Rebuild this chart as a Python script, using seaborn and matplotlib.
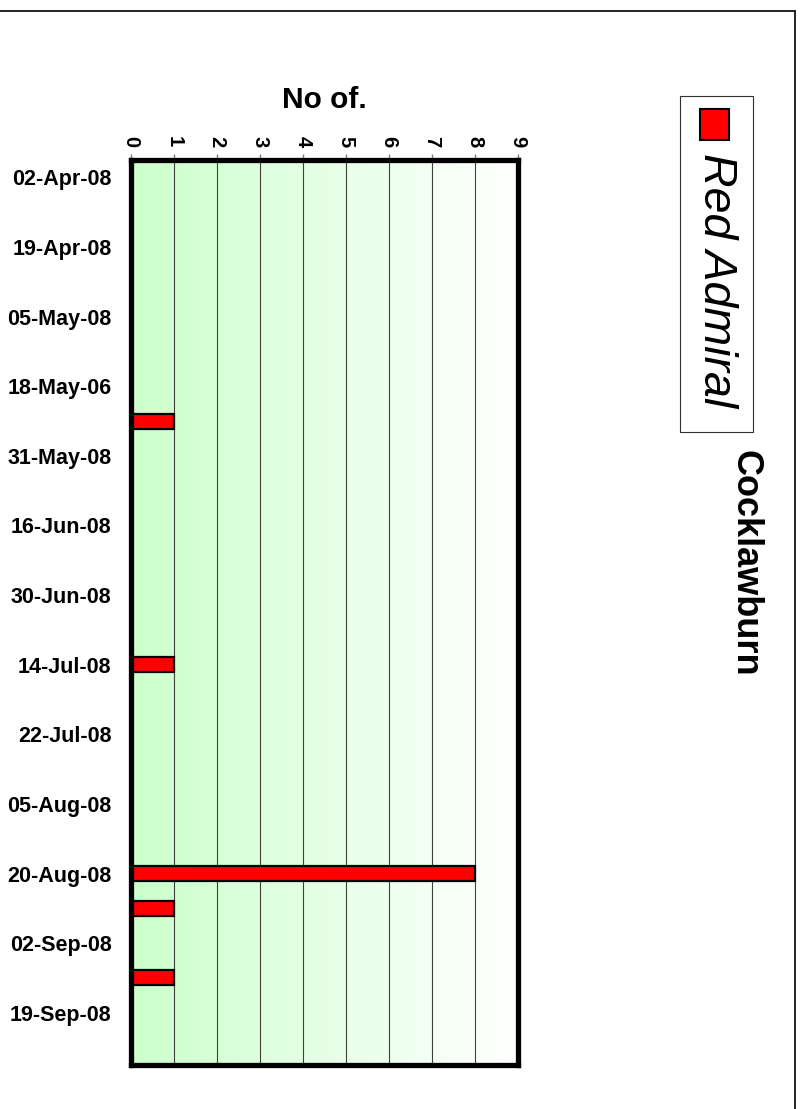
import numpy as np
import pandas as pd
import matplotlib
matplotlib.use("Agg")
import matplotlib.pyplot as plt
from matplotlib.patches import Rectangle
from matplotlib.lines import Line2D
import seaborn as sns

# Survey visits (one slot per visit); every other visit carries a date label
date_labels = ["02-Apr-08", "19-Apr-08", "05-May-08", "18-May-06", "31-May-08",
               "16-Jun-08", "30-Jun-08", "14-Jul-08", "22-Jul-08", "05-Aug-08",
               "20-Aug-08", "02-Sep-08", "19-Sep-08"]
counts = [0, 0, 0, 0, 0, 0, 0, 1, 0, 0, 0, 0, 0,
          0, 1, 0, 0, 0, 0, 0, 8, 1, 0, 1, 0, 0]
x_ticks = [0, 1, 2, 3, 4, 5, 6, 7, 8, 9]
series_name = "Red Admiral"
site_name = "Cocklawburn"
axis_title = "No of."

sns.set_style("white")
plt.rcParams["font.family"] = ["Liberation Sans", "DejaVu Sans"]
plt.rcParams["text.color"] = "black"
plt.rcParams["xtick.labelcolor"] = "black"
plt.rcParams["ytick.labelcolor"] = "black"

W, H = 801, 1109
fig = plt.figure(figsize=(W / 100, H / 100), dpi=100)
ax = fig.add_axes([131 / W, 1 - 1065 / H, (518 - 131) / W, (1065 - 160) / H])

slots = list(range(len(counts)))
df = pd.DataFrame({"slot": slots, "count": counts})

# background gradient: pale green on the left fading to white
grad = np.linspace(0, 1, 256)[None, :]
c0 = np.array([0.80, 1.0, 0.80])
c1 = np.array([1.0, 1.0, 1.0])
img = c0[None, None, :] * (1 - grad[..., None]) + c1[None, None, :] * grad[..., None]
ax.imshow(img, extent=[0, 1, 0, 1], transform=ax.transAxes, aspect="auto", zorder=-2)

sns.barplot(data=df, x="count", y="slot", orient="h", order=slots,
            color="#ff0000", saturation=1, edgecolor="black", linewidth=1.6,
            width=0.43, ax=ax, zorder=3)

ax.set_xlim(0, 9)
ax.set_ylim(len(counts) - 0.5, -0.5)
ax.set_xlabel("")
ax.set_ylabel("")

# vertical gridlines at each whole count
ax.set_xticks(x_ticks)
ax.grid(axis="x", color="#404040", linewidth=0.8)
ax.grid(axis="y", visible=False)
ax.set_axisbelow(True)

# count axis along the top
ax.xaxis.tick_top()
ax.set_xticklabels([str(v) for v in x_ticks], rotation=-90, fontsize=14.5)
for lab in ax.get_xticklabels():
    lab.set_fontweight("bold")
    lab.set_color("black")
ax.tick_params(axis="x", which="major", direction="out", length=4, width=1,
               color="#808080", pad=5)

# tick marks between visits, date labels on alternate visits
ax.set_yticks(np.arange(-0.5, len(counts), 1.0))
ax.set_yticklabels([])
ax.set_yticks(np.arange(0, len(counts), 2), minor=True)
ax.set_yticklabels(date_labels, minor=True, fontsize=15.5)
for lab in ax.get_yticklabels(minor=True):
    lab.set_fontweight("bold")
    lab.set_color("black")
ax.tick_params(axis="y", which="major", direction="out", length=4, width=1,
               color="#808080")
ax.tick_params(axis="y", which="minor", length=0, pad=14)

for sp in ax.spines.values():
    sp.set_visible(True)
    sp.set_color("black")
    sp.set_linewidth(3.8)
    sp.set_capstyle("projecting")
    sp.set_zorder(5)

# axis title
fig.text(324 / W, 1 - 100 / H, axis_title, ha="center", va="center",
         fontsize=21.5, fontweight="bold", color="black")

# legend box with rotated entry
fig.add_artist(Rectangle((680 / W, 1 - 432 / H), (753 - 680) / W, (432 - 96) / H,
                         transform=fig.transFigure, facecolor="white",
                         edgecolor="#303030", linewidth=0.8))
fig.add_artist(Rectangle((700 / W, 1 - 140 / H), 29 / W, 31 / H,
                         transform=fig.transFigure, facecolor="#ff0000",
                         edgecolor="black", linewidth=1.5))
fig.text(716 / W, 1 - 153 / H, series_name, rotation=-90, ha="center", va="top",
         fontsize=33.5, fontstyle="italic", color="black")

# site name
fig.text(745 / W, 1 - 450 / H, site_name, rotation=-90, ha="center", va="top",
         fontsize=26, fontweight="bold", color="black")

# outer frame (top and right edges)
fig.add_artist(Line2D([0, 795 / W], [1 - 11 / H, 1 - 11 / H],
                      transform=fig.transFigure, color="black", linewidth=1.2))
fig.add_artist(Line2D([795 / W, 795 / W], [1 - 11 / H, 0],
                      transform=fig.transFigure, color="black", linewidth=1.2))

fig.savefig("out.png", dpi=100)
